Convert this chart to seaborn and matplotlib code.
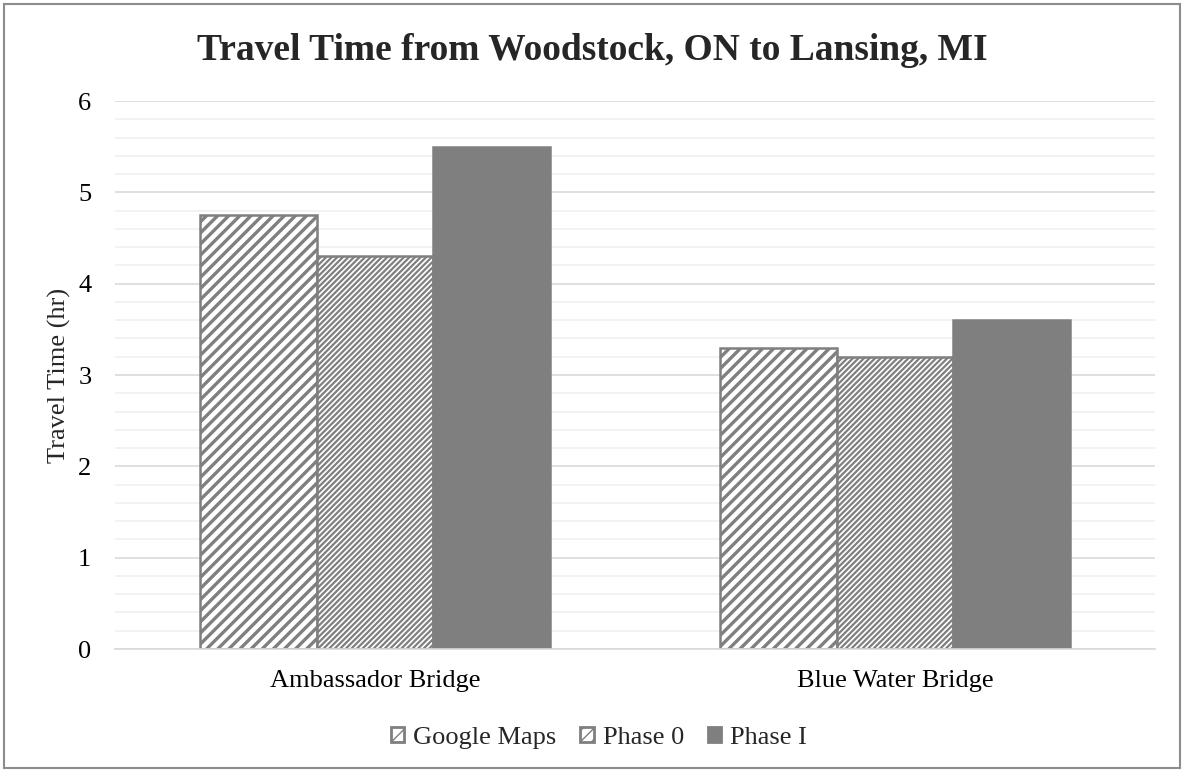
import matplotlib
matplotlib.use("Agg")
import matplotlib.pyplot as plt
import seaborn as sns
import pandas as pd
from matplotlib.patches import Patch, Rectangle
from matplotlib.ticker import MultipleLocator

# Travel time data (hours)
routes = ["Ambassador Bridge", "Blue Water Bridge"]
sources = ["Google Maps", "Phase 0", "Phase I"]
google_maps = [4.75, 3.3]
phase_0 = [4.3, 3.2]
phase_1 = [5.5, 3.6]

df = pd.DataFrame({
    "Route": routes * 3,
    "Source": [s for s in sources for _ in routes],
    "Hours": google_maps + phase_0 + phase_1,
})

sns.set_theme(style="white")
plt.rcParams["font.family"] = ["Liberation Serif", "DejaVu Serif"]
plt.rcParams["hatch.color"] = "#7f7f7f"

GRAY = "#7f7f7f"
W, H = 1184, 772
fig = plt.figure(figsize=(W / 100, H / 100), dpi=100)
ax = fig.add_axes([115 / W, 1 - 649 / H, 1040 / W, 548 / H])

sns.barplot(data=df, x="Route", y="Hours", hue="Source", order=routes,
            hue_order=sources, width=0.673, gap=0, ax=ax, legend=False,
            palette=["white", "white", GRAY], edgecolor=GRAY, linewidth=1.8,
            saturation=1)

styles = {
    "Google Maps": dict(facecolor="white", hatch="///", edgecolor=GRAY),
    "Phase 0": dict(facecolor="white", hatch="//////", edgecolor=GRAY),
    "Phase I": dict(facecolor=GRAY, hatch=None, edgecolor=GRAY),
}
bars = [p for p in ax.patches if isinstance(p, Rectangle)]
for i, p in enumerate(bars):
    st = styles[sources[i // len(routes)]]
    p.set_facecolor(st["facecolor"])
    p.set_hatch(st["hatch"])
    p.set_edgecolor(st["edgecolor"])
    if st["hatch"]:
        p.set_hatch_linewidth(2.4 if st["hatch"] == "///" else 1.6)

ax.set_ylim(0, 6)
ax.set_xlim(-0.5, 1.5)
ax.yaxis.set_major_locator(MultipleLocator(1))
ax.yaxis.set_minor_locator(MultipleLocator(0.2))
ax.grid(axis="y", which="major", color="#d9d9d9", linewidth=1.2)
ax.grid(axis="y", which="minor", color="#f0f0f0", linewidth=1.2)
ax.set_axisbelow(True)
for side in ["top", "right", "left"]:
    ax.spines[side].set_visible(False)
ax.spines["bottom"].set_color("#d9d9d9")
ax.spines["bottom"].set_linewidth(1.2)

ax.tick_params(axis="both", which="both", labelsize=19, colors="black", length=0)
ax.tick_params(axis="x", pad=15)
ax.tick_params(axis="y", pad=17)
ax.set_xlabel("")
ax.set_ylabel("Travel Time (hr)", fontsize=19)
ax.yaxis.set_label_coords((71 - 115) / 1040, 0.5)

fig.suptitle("Travel Time from Woodstock, ON to Lansing, MI", fontsize=27,
             fontweight="bold", y=1 - 50 / H, va="center")

legend_hatch = {"Google Maps": "/", "Phase 0": "///", "Phase I": None}
handles = []
for s in sources:
    h = Patch(label=s, facecolor=styles[s]["facecolor"], edgecolor=GRAY,
              hatch=legend_hatch[s], linewidth=2.0)
    if legend_hatch[s]:
        h.set_hatch_linewidth(3.0)
    handles.append(h)
fig.legend(handles=handles, loc="center", bbox_to_anchor=(599 / W, 1 - 738 / H),
           ncol=3, frameon=False, fontsize=19, handlelength=0.5,
           handleheight=0.5, handletextpad=0.35, columnspacing=0.9)

# Outer chart border
fig.patches.append(Rectangle((4 / W, 4 / H), 1 - 8 / W, 1 - 8 / H,
                             transform=fig.transFigure, fill=False,
                             edgecolor="#8c8c8c", linewidth=1.5))

fig.savefig("out.png", dpi=100)
